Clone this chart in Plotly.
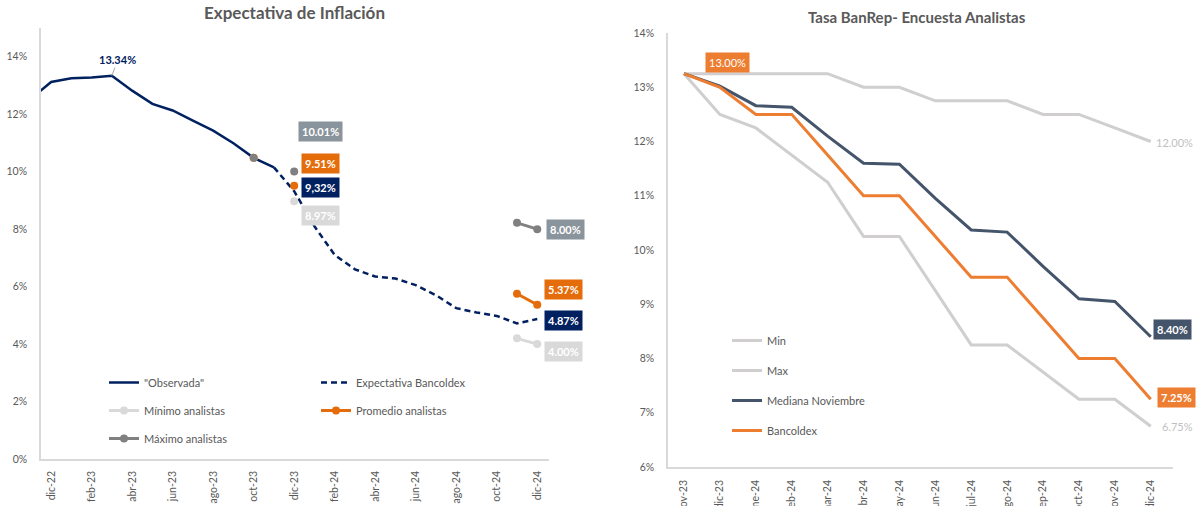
import plotly.graph_objects as go

W, H = 1202, 506

# ---------------- Left chart data ----------------
left_months = ["nov-22", "dic-22", "ene-23", "feb-23", "mar-23", "abr-23", "may-23", "jun-23",
               "jul-23", "ago-23", "sep-23", "oct-23", "nov-23", "dic-23", "ene-24", "feb-24",
               "mar-24", "abr-24", "may-24", "jun-24", "jul-24", "ago-24", "sep-24", "oct-24",
               "nov-24", "dic-24"]
left_ticks = ["dic-22", "feb-23", "abr-23", "jun-23", "ago-23", "oct-23", "dic-23",
              "feb-24", "abr-24", "jun-24", "ago-24", "oct-24", "dic-24"]
left_yticks = [0, 2, 4, 6, 8, 10, 12, 14]
observada = [12.53, 13.12, 13.25, 13.28, 13.34, 12.82, 12.36, 12.13, 11.78, 11.43, 10.99, 10.48,
             10.15] + [None] * 13
expectativa = [None] * 12 + [10.15, 9.32, 8.10, 7.10, 6.60, 6.35, 6.28, 6.05, 5.70, 5.25, 5.10,
                             4.98, 4.72, 4.87]
minimo = [None] * 11 + [10.48, None, 8.97] + [None] * 10 + [4.20, 4.00]
promedio = [None] * 11 + [10.48, None, 9.51] + [None] * 10 + [5.75, 5.37]
maximo = [None] * 11 + [10.48, None, 10.01] + [None] * 10 + [8.22, 8.00]

# ---------------- Right chart data ----------------
right_months = ["nov-23", "dic-23", "ene-24", "feb-24", "mar-24", "abr-24", "may-24", "jun-24",
                "jul-24", "ago-24", "sep-24", "oct-24", "nov-24", "dic-24"]
right_yticks = [6, 7, 8, 9, 10, 11, 12, 13, 14]
r_min = [13.25, 12.50, 12.25, 11.75, 11.25, 10.25, 10.25, 9.25, 8.25, 8.25, 7.75, 7.25, 7.25, 6.75]
r_max = [13.25, 13.25, 13.25, 13.25, 13.25, 13.00, 13.00, 12.75, 12.75, 12.75, 12.50, 12.50, 12.25, 12.00]
r_mediana = [13.25, 13.02, 12.66, 12.63, 12.10, 11.60, 11.58, 10.95, 10.37, 10.33, 9.70, 9.10, 9.05, 8.40]
r_bancoldex = [13.25, 13.00, 12.50, 12.50, 11.75, 11.00, 11.00, 10.25, 9.50, 9.50, 8.75, 8.00, 8.00, 7.25]

NAVY = "#002060"
ORANGE_L = "#E46C0A"
LGREY = "#D9D9D9"
MGREY = "#808080"
BOXGREY = "#8A949C"
SLATE = "#44546A"
ORANGE_R = "#ED7D31"
RGREY = "#D0CECE"
TXT = "#595959"
FONT = "Lato, 'Open Sans', sans-serif"


def px(xp):
    return xp / W


def py(yp):
    return 1 - yp / H


fig = go.Figure()

# Left traces
fig.add_trace(go.Scatter(x=left_months, y=observada, name='"Observada"', mode="lines",
                         line=dict(color=NAVY, width=2.5), legend="legend", legendgroup="a",
                         xaxis="x", yaxis="y"))
fig.add_trace(go.Scatter(x=left_months, y=expectativa, name="Expectativa Bancoldex", mode="lines",
                         line=dict(color=NAVY, width=2.5, dash="6px,4px"), legend="legend2",
                         legendgroup="b", xaxis="x", yaxis="y"))
fig.add_trace(go.Scatter(x=left_months, y=minimo, name="Mínimo analistas", mode="lines+markers",
                         line=dict(color=LGREY, width=3), marker=dict(color=LGREY, size=8),
                         connectgaps=False, legend="legend", legendgroup="c", xaxis="x", yaxis="y"))
fig.add_trace(go.Scatter(x=left_months, y=promedio, name="Promedio analistas", mode="lines+markers",
                         line=dict(color=ORANGE_L, width=3), marker=dict(color=ORANGE_L, size=8),
                         connectgaps=False, legend="legend2", legendgroup="d", xaxis="x", yaxis="y"))
fig.add_trace(go.Scatter(x=left_months, y=maximo, name="Máximo analistas", mode="lines+markers",
                         line=dict(color=MGREY, width=3), marker=dict(color=MGREY, size=8),
                         connectgaps=False, legend="legend", legendgroup="e", xaxis="x", yaxis="y"))

# Right traces
for name, vals, col in [("Min", r_min, RGREY), ("Max", r_max, RGREY),
                        ("Mediana Noviembre", r_mediana, SLATE), ("Bancoldex", r_bancoldex, ORANGE_R)]:
    fig.add_trace(go.Scatter(x=right_months, y=vals, name=name, mode="lines",
                             line=dict(color=col, width=3), legend="legend3", legendgroup=name,
                             xaxis="x2", yaxis="y2"))

annotations = []

# Titles
annotations.append(dict(text="<b>Expectativa de Inflación</b>", xref="paper", yref="paper",
                        x=px(294), y=py(13), xanchor="center", yanchor="middle", showarrow=False,
                        font=dict(family=FONT, size=17, color=TXT)))
annotations.append(dict(text="<b>Tasa BanRep- Encuesta Analistas</b>", xref="paper", yref="paper",
                        x=px(917), y=py(17), xanchor="center", yanchor="middle", showarrow=False,
                        font=dict(family=FONT, size=15, color=TXT)))

# 13.34% peak label
annotations.append(dict(text="<b>13.34%</b>", x="mar-23", y=13.34, xref="x", yref="y",
                        showarrow=True, ax=6, ay=-16, arrowhead=0, arrowwidth=1,
                        arrowcolor="#A6A6A6", standoff=0,
                        font=dict(family=FONT, size=11, color=NAVY)))


def box(text, x, y, xs, ys, bg, xref="x", yref="y", bold=True, color="white"):
    t = f"<b>{text}</b>" if bold else text
    annotations.append(dict(text=t, x=x, y=y, xref=xref, yref=yref, showarrow=False,
                            xshift=xs, yshift=ys, bgcolor=bg, borderpad=3,
                            font=dict(family=FONT, size=11, color=color)))


box("10.01%", "dic-23", 10.01, 26, 40, BOXGREY)
box("9.51%", "dic-23", 9.51, 26, 22, ORANGE_L)
box("9,32%", "dic-23", 9.32, 26, 4, NAVY)
box("8.97%", "dic-23", 8.97, 26, -14, LGREY)
box("8.00%", "dic-24", 8.00, 28, 0, BOXGREY)
box("5.37%", "dic-24", 5.37, 26, 15, ORANGE_L)
box("4.87%", "dic-24", 4.87, 26, -1, NAVY)
box("4.00%", "dic-24", 4.00, 26, -7, LGREY)

box("13.00%", "dic-23", 13.00, 8, 25, ORANGE_R, xref="x2", yref="y2", bold=False)
box("8.40%", "dic-24", 8.40, 22, 7, SLATE, xref="x2", yref="y2")
box("7.25%", "dic-24", 7.25, 26, 2, ORANGE_R, xref="x2", yref="y2")
annotations.append(dict(text="12.00%", x="dic-24", y=12.00, xref="x2", yref="y2", showarrow=False,
                        xshift=24, yshift=-1, font=dict(family=FONT, size=11, color="#BFBFBF")))
annotations.append(dict(text="6.75%", x="dic-24", y=6.75, xref="x2", yref="y2", showarrow=False,
                        xshift=27, yshift=0, font=dict(family=FONT, size=11, color="#BFBFBF")))

axis_font = dict(family=FONT, size=10.5, color=TXT)
leg_font = dict(family=FONT, size=11, color=TXT)

fig.update_layout(
    width=W, height=H,
    margin=dict(l=0, r=0, t=0, b=0, autoexpand=False),
    paper_bgcolor="white", plot_bgcolor="white",
    font=dict(family=FONT, color=TXT),
    annotations=annotations,
    xaxis=dict(domain=[px(41), px(549)], anchor="y", type="category", automargin=False,
               categoryorder="array", categoryarray=left_months,
               range=[0.5, 25.58], tickmode="array", tickvals=left_ticks, ticktext=left_ticks,
               tickangle=-90, showgrid=False, zeroline=False, showline=True,
               linecolor=LGREY, linewidth=1.5, ticks="", tickfont=axis_font, ticklabelstandoff=6),
    yaxis=dict(domain=[py(459), py(28)], anchor="x", range=[0, 15], automargin=False,
               tickmode="array", tickvals=left_yticks,
               ticktext=[f"{v}%" for v in left_yticks], showgrid=False,
               zeroline=False, showline=True, linecolor=LGREY, linewidth=1.5, ticks="",
               tickfont=axis_font, ticklabelstandoff=10),
    xaxis2=dict(domain=[px(668), px(1173)], anchor="y2", type="category", automargin=False,
                categoryorder="array", categoryarray=right_months,
                range=[-0.446, 13.62], tickangle=-90, showgrid=False, zeroline=False,
                showline=True, linecolor=LGREY, linewidth=1.5, ticks="", tickfont=axis_font,
                ticklabelstandoff=7),
    yaxis2=dict(domain=[py(467), py(33)], anchor="x2", range=[6, 14], automargin=False,
                tickmode="array", tickvals=right_yticks,
                ticktext=[f"{v}%" for v in right_yticks], showgrid=False,
                zeroline=False, showline=True, linecolor=LGREY, linewidth=1.5, ticks="",
                tickfont=axis_font, ticklabelstandoff=10),
    legend=dict(x=px(104), y=py(368), xanchor="left", yanchor="top", bgcolor="rgba(0,0,0,0)",
                font=leg_font, tracegroupgap=9, orientation="v"),
    legend2=dict(x=px(316), y=py(368), xanchor="left", yanchor="top", bgcolor="rgba(0,0,0,0)",
                 font=leg_font, tracegroupgap=9, orientation="v"),
    legend3=dict(x=px(727), y=py(326), xanchor="left", yanchor="top", bgcolor="rgba(0,0,0,0)",
                 font=leg_font, tracegroupgap=11, orientation="v"),
)

fig.write_html("out.html", config={"displayModeBar": False},
               post_script="document.body.style.margin='0';document.body.style.padding='0';")
